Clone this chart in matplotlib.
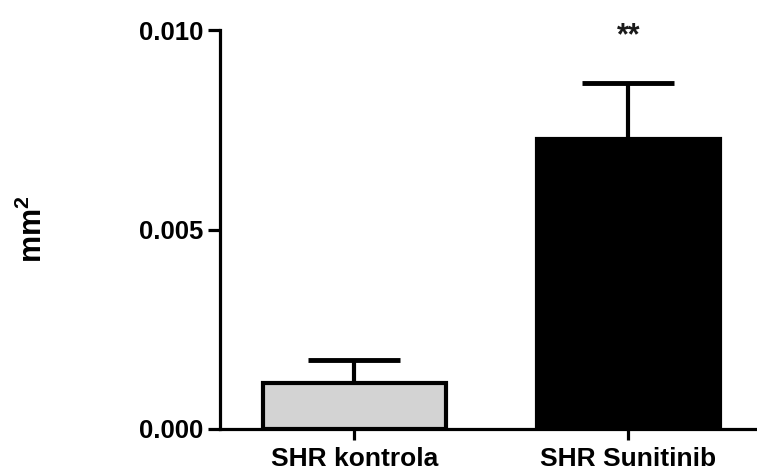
import matplotlib
matplotlib.use('Agg')
import matplotlib.pyplot as plt
import numpy as np

# data
groups = ['SHR kontrola', 'SHR Sunitinib']
means = [0.00115, 0.00727]
sem = [0.00058, 0.00140]
bar_colors = ['#d3d3d3', 'black']
signif = ['', '**']
yticks = [0.000, 0.005, 0.010]

plt.rcParams['font.family'] = ['Liberation Sans', 'DejaVu Sans']
plt.rcParams['font.weight'] = 'bold'
plt.rcParams['mathtext.fontset'] = 'custom'
plt.rcParams['mathtext.rm'] = 'Liberation Sans:bold'
plt.rcParams['mathtext.bf'] = 'Liberation Sans:bold'

fig = plt.figure(figsize=(7.57, 4.75), dpi=100)
ax = fig.add_axes([220/757, 46/475, 537/757, 399/475])

x = np.arange(len(groups))
ax.errorbar(x, means, yerr=[np.zeros(len(sem)), sem], fmt='none', ecolor='black',
            elinewidth=3, capsize=33, capthick=3.5, zorder=1)
ax.bar(x, means, width=0.667, color=bar_colors, edgecolor='black', linewidth=3, zorder=2)

for xi, m, s, lab in zip(x, means, sem, signif):
    if lab:
        ax.text(xi, 0.00985, lab, ha='center', va='center', fontsize=22,
                fontweight='bold', color='#1a1a1a', clip_on=False)

ax.set_xlim(-0.49, 1.47)
ax.set_ylim(0, 0.010)
ax.set_yticks(yticks)
ax.set_yticklabels(['%.3f' % v for v in yticks])
ax.set_xticks(x)
ax.set_xticklabels(groups)

for side in ['top', 'right']:
    ax.spines[side].set_visible(False)
for side in ['left', 'bottom']:
    ax.spines[side].set_linewidth(2.3)

ax.tick_params(axis='y', length=8.5, width=2.3, pad=3.5, labelsize=18.5)
ax.tick_params(axis='x', length=8, width=2.3, pad=5, labelsize=19)

ax.set_ylabel(r'$\mathbf{mm^2}$', fontsize=22)
ax.yaxis.set_label_coords(-0.318, 0.5)

fig.savefig('out.png', dpi=100)
